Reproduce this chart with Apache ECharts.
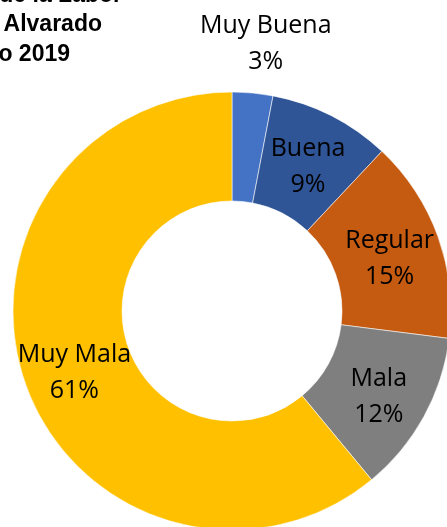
<!DOCTYPE html>
<html>
<head>
<meta charset="utf-8">
<script src="https://cdn.jsdelivr.net/npm/echarts@6/dist/echarts.min.js"></script>
<style>
html,body{margin:0;padding:0;background:#fff;}
#main{width:447px;height:527px;}
</style>
</head>
<body>
<div id="main"></div>
<script>
var categories = ['Muy Buena', 'Buena', 'Regular', 'Mala', 'Muy Mala'];
var values = [3, 9, 15, 12, 61];
var colors = ['#4472C4', '#2F5597', '#C55A11', '#7F7F7F', '#FFC000'];
var titleLines = ['de la Labor', 'Alvarado', 'o 2019'];

var chart = echarts.init(document.getElementById('main'), null, {renderer: 'canvas'});

var data = categories.map(function (c, i) {
  var item = {name: c, value: values[i], itemStyle: {color: colors[i]}};
  if (i === 0) {
    item.label = {offset: [18, -100]};
  }
  return item;
});

function titleText(txt, x, y) {
  return {
    type: 'text', x: x, y: y,
    style: {text: txt, fontFamily: 'Liberation Sans, Arial, sans-serif', fontWeight: 'bold', fontSize: 23, fill: '#000', align: 'right', verticalAlign: 'top'}
  };
}

chart.setOption({
  animation: false,
  backgroundColor: '#fff',
  graphic: [
    titleText(titleLines[0], 122, -16),
    titleText(titleLines[1], 102, 13),
    titleText(titleLines[2], 70, 43)
  ],
  series: [{
    type: 'pie',
    center: [232, 311],
    radius: [110, 219],
    startAngle: 90,
    clockwise: true,
    avoidLabelOverlap: false,
    itemStyle: {borderColor: 'rgba(255,255,255,0.7)', borderWidth: 0.8},
    label: {
      show: true,
      position: 'inside',
      offset: [0, 5],
      formatter: function (p) { return p.name + '\n' + Math.round(p.percent) + '%'; },
      color: '#000',
      fontFamily: 'Open Sans, sans-serif',
      fontSize: 25,
      lineHeight: 36,
      align: 'center'
    },
    labelLine: {show: false},
    emphasis: {disabled: true},
    data: data
  }]
});
</script>
</body>
</html>
